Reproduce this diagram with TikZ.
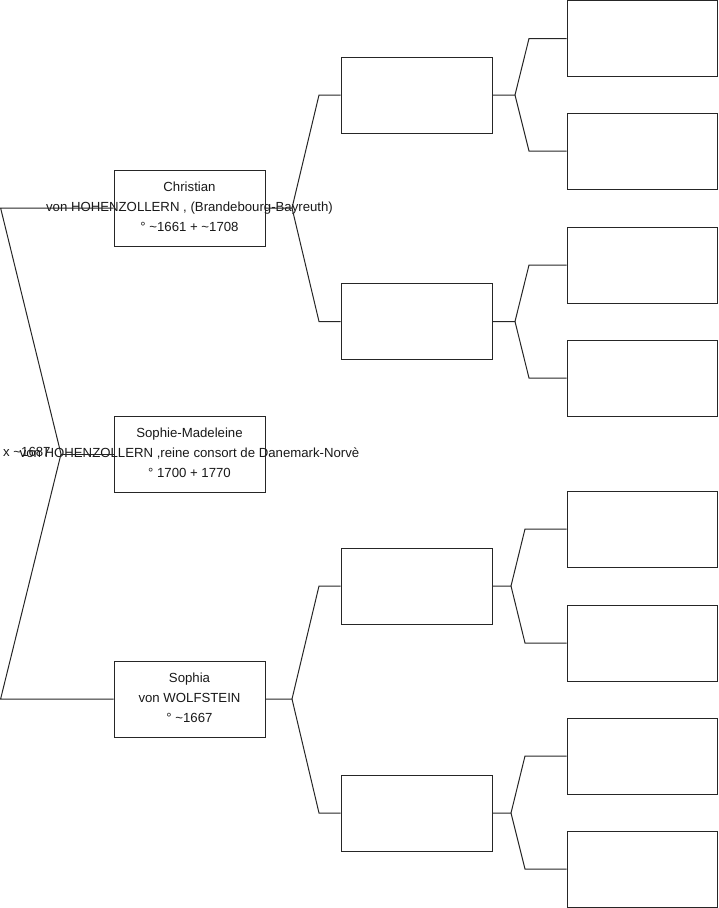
\documentclass[tikz,border=0pt]{standalone}
\usepackage{fontspec}
\setmainfont{Liberation Sans}
\begin{document}
\begin{tikzpicture}[x=1pt,y=-1pt,
  ln/.style={draw=black!85,line width=1pt},
  box/.style={draw=black!85,line width=1pt,fill=white,minimum width=151pt,minimum height=76pt,inner sep=0pt},
  sbox/.style={draw=black!85,line width=1pt,fill=white,minimum width=150pt,minimum height=76pt,inner sep=0pt},
  txt/.style={align=center,inner sep=0pt,text=black!90,font=\fontsize{13.2}{20}\selectfont}]
\useasboundingbox (0,0) rectangle (719,908);
% generation 1
\node[box] (g1a) at (189.5,208) {};
\node[box] (g1b) at (189.5,454) {};
\node[box] (g1c) at (189.5,699) {};
% generation 2
\node[box] (g2a) at (416.5,95) {};
\node[box] (g2b) at (416.5,321.5) {};
\node[box] (g2c) at (416.5,586) {};
\node[box] (g2d) at (416.5,813) {};
% generation 3
\node[sbox] (g3a) at (642,38.5) {};
\node[sbox] (g3b) at (642,151) {};
\node[sbox] (g3c) at (642,265) {};
\node[sbox] (g3d) at (642,378) {};
\node[sbox] (g3e) at (642,529) {};
\node[sbox] (g3f) at (642,643) {};
\node[sbox] (g3g) at (642,756) {};
\node[sbox] (g3h) at (642,869) {};
% fork coordinates
\coordinate (L1) at (0.6,208);
\coordinate (V0) at (61,454);
\coordinate (L2) at (0.6,699);
\coordinate (F1) at (292,208);
\coordinate (A1) at (319,95);
\coordinate (B1) at (319,321.5);
\coordinate (F3) at (292,699);
\coordinate (A3) at (319,586);
\coordinate (B3) at (319,813);
\coordinate (Fa) at (515,95);
\coordinate (Fa1) at (529,38.5);
\coordinate (Fa2) at (529,151);
\coordinate (Fb) at (515,321.5);
\coordinate (Fb1) at (529,265);
\coordinate (Fb2) at (529,378);
\coordinate (Fc) at (511,586);
\coordinate (Fc1) at (525,529);
\coordinate (Fc2) at (525,643);
\coordinate (Fd) at (511,813);
\coordinate (Fd1) at (525,756);
\coordinate (Fd2) at (525,869);
% texts
\node[txt] (t1) at (189.5,207) {Christian\\von HOHENZOLLERN , (Brandebourg-Bayreuth)\\° \textasciitilde1661 + \textasciitilde1708};
\node[txt] (t2) at (189.5,453) {Sophie-Madeleine\\von HOHENZOLLERN ,reine consort de Danemark-Norvè\\° 1700 + 1770};
\node[txt] (t3) at (189.5,698) {Sophia\\von WOLFSTEIN\\° \textasciitilde1667};
\node[txt,anchor=west] (mar) at (3,452) {x \textasciitilde1687};
% connectors
\draw[ln] (g1a.west) -- (L1) -- (V0) -- (L2) -- (g1c.west);
\draw[ln] (V0) -- (g1b.west);
\draw[ln] (g1a.east) -- (F1) -- (A1) -- (g2a.west);
\draw[ln] (F1) -- (B1) -- (g2b.west);
\draw[ln] (g1c.east) -- (F3) -- (A3) -- (g2c.west);
\draw[ln] (F3) -- (B3) -- (g2d.west);
\draw[ln] (g2a.east) -- (Fa) -- (Fa1) -- (g3a.west);
\draw[ln] (Fa) -- (Fa2) -- (g3b.west);
\draw[ln] (g2b.east) -- (Fb) -- (Fb1) -- (g3c.west);
\draw[ln] (Fb) -- (Fb2) -- (g3d.west);
\draw[ln] (g2c.east) -- (Fc) -- (Fc1) -- (g3e.west);
\draw[ln] (Fc) -- (Fc2) -- (g3f.west);
\draw[ln] (g2d.east) -- (Fd) -- (Fd1) -- (g3g.west);
\draw[ln] (Fd) -- (Fd2) -- (g3h.west);
\end{tikzpicture}
\end{document}
